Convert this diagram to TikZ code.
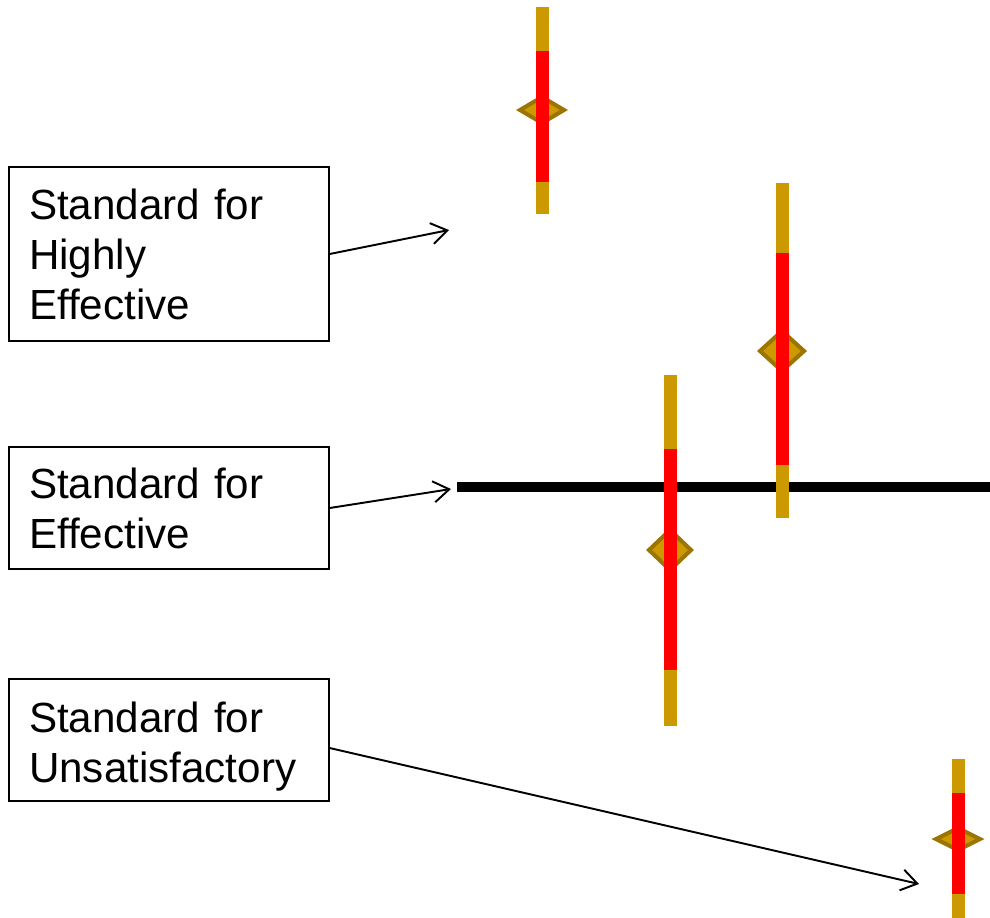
\documentclass[tikz,border=0pt]{standalone}
\usepackage{fontspec}
\setmainfont{Liberation Sans}
\usetikzlibrary{arrows.meta,positioning}
\definecolor{bargold}{HTML}{CC9900}
\definecolor{diaedge}{HTML}{9C7400}
\definecolor{barred}{HTML}{FF0000}
\tikzset{
  stdbox/.style={draw=black, line width=0.8pt, fill=white, align=left,
    text width=5.6cm, minimum width=6.4cm, inner xsep=0.4cm,
    font=\fontsize{24}{28.5}\selectfont},
  pointer/.style={-{Straight Barb[length=9pt,width=12pt]}, line width=1.1pt},
}
\begin{document}
\begin{tikzpicture}[x=0.02cm, y=-0.02cm]
    \useasboundingbox (0,0) rectangle (990,917);

    % Standard line for effective
    \draw[line width=5.7pt] (457,487) -- (990,487);

    % Bars: x, top, red top, red bottom, bottom, diamond y, half width, half height
    \foreach \x/\t/\rt/\rb/\b/\dy/\dw/\dh in {
        542/7/51/182/214/110/22/13,
        782/183/253/465/518/351/22/20,
        670/375/449/670/726/550/21/20,
        958/759/793/894/930/839/22/11} {
      \filldraw[fill=bargold, draw=diaedge, line width=2.3pt]
        (\x-\dw,\dy) -- (\x,\dy-\dh) -- (\x+\dw,\dy) -- (\x,\dy+\dh) -- cycle;
      \fill[bargold] (\x-6.5,\t) rectangle (\x+6.5,\b);
      \fill[barred] (\x-6.5,\rt) rectangle (\x+6.5,\rb);
    }

    % Label boxes
    \node[stdbox, minimum height=3.48cm] (high) at (169,254)
        {Standard for\\Highly\\Effective};
    \node[stdbox, minimum height=2.44cm] (eff) at (169,508)
        {Standard for\\Effective};
    \node[stdbox, minimum height=2.44cm] (unsat) at (169,740)
        {\rule{0pt}{24.5pt}Standard for\\Unsatisfactory};

    \coordinate (highpt) at (449,230);
    \coordinate (effpt) at (451,489);
    \coordinate (unsatpt) at (919,884);

    \draw[pointer] (high.east) -- (highpt);
    \draw[pointer] (eff.east) -- (effpt);
    \draw[pointer] ([yshift=-0.16cm]unsat.east) -- (unsatpt);
\end{tikzpicture}
\end{document}
